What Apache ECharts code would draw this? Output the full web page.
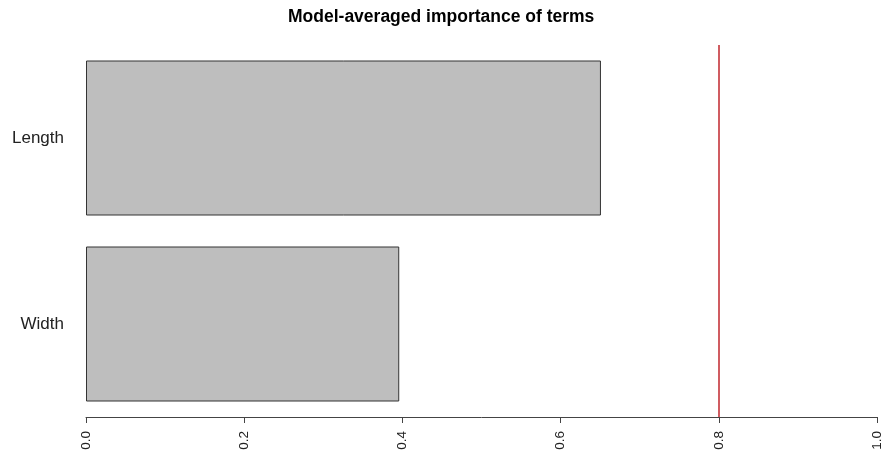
<!DOCTYPE html>
<html><head><meta charset="utf-8">
<script src="https://cdn.jsdelivr.net/npm/echarts@6/dist/echarts.min.js"></script>
<style>html,body{margin:0;padding:0;background:#fff}#c{width:890px;height:459px}</style>
</head><body><div id="c"></div>
<script>
var categories = ['Width', 'Length'];
var importance = [0.396, 0.651];
var xTicks = ['0.0', '0.2', '0.4', '0.6', '0.8', '1.0'];
var threshold = 0.8;
var titleText = 'Model-averaged importance of terms';

var redLine = {color: '#c0262d', width: 1.5, type: 'solid'};
var chart = echarts.init(document.getElementById('c'));
chart.setOption({
  animation: false,
  backgroundColor: '#fff',
  title: {
    text: titleText, left: 283, top: 3,
    textStyle: {fontFamily: 'Liberation Sans', fontWeight: 'bold', fontSize: 17.5, color: '#000'}
  },
  grid: {left: 86, right: 13, top: 45, bottom: 42},
  xAxis: {
    type: 'value', min: 0, max: 1, interval: 0.2,
    axisLine: {show: true, lineStyle: {color: '#444', width: 1}},
    axisTick: {show: true, length: 6, lineStyle: {color: '#444'}},
    splitLine: {show: false},
    axisLabel: {
      rotate: 90, margin: 14, fontFamily: 'Liberation Sans', fontSize: 13.5, color: '#222',
      formatter: function (v) { return xTicks[Math.round(v / 0.2)]; }
    }
  },
  yAxis: {
    type: 'category', data: categories,
    axisLine: {show: false}, axisTick: {show: false},
    axisLabel: {margin: 22, fontFamily: 'Liberation Sans', fontSize: 17, color: '#222'}
  },
  series: [{
    type: 'bar', data: importance, barWidth: 155,
    itemStyle: {color: '#bebebe', borderColor: '#333', borderWidth: 1},
    markLine: {
      silent: true, symbol: ['none', 'none'], label: {show: false},
      lineStyle: redLine,
      emphasis: {disabled: true},
      data: [{xAxis: threshold, lineStyle: redLine}]
    }
  }]
});
</script></body></html>
